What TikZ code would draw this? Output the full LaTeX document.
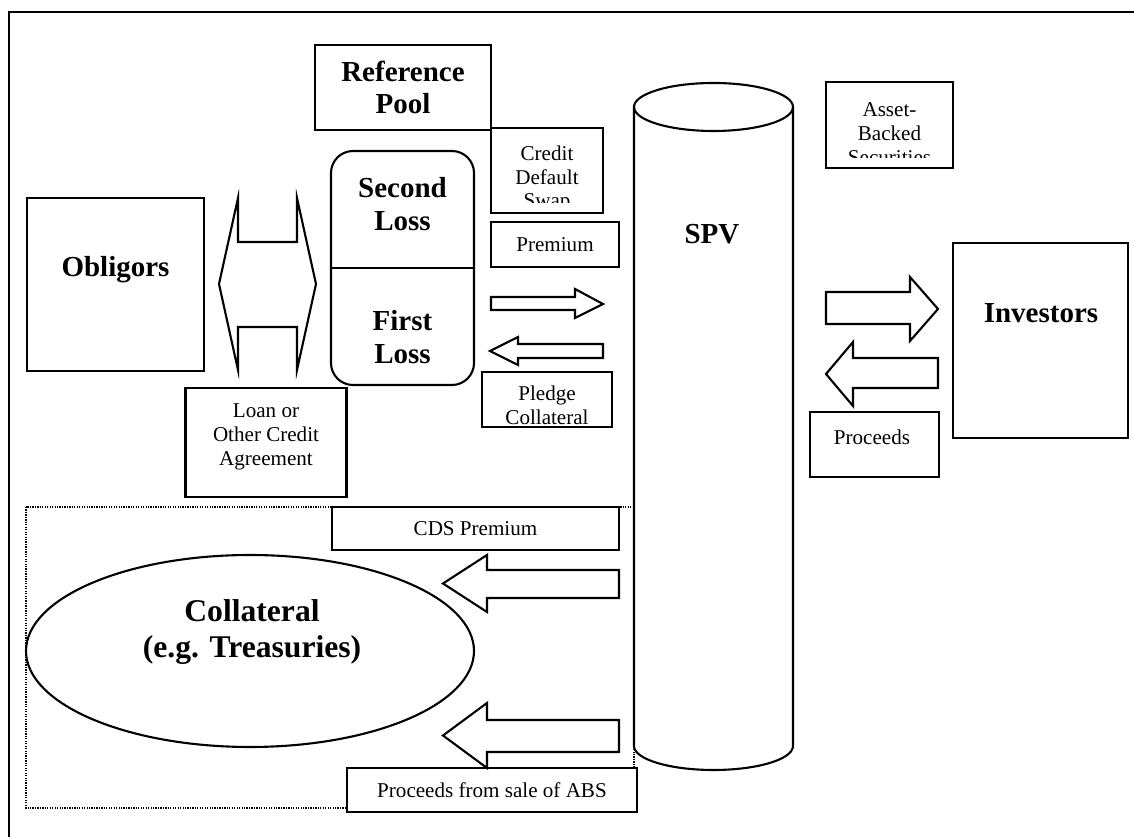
\documentclass[tikz,border=0pt]{standalone}
\usepackage{fontspec}
\setmainfont{Liberation Serif}
\usepackage{tikz}
\usetikzlibrary{shapes,arrows,positioning,calc}

\tikzset{
  box/.style={draw, line width=1.2pt, fill=white, inner sep=0pt, outer sep=0pt},
  boxsize/.style 2 args={minimum width=#1*0.02cm, minimum height=#2*0.02cm},
  smalltxt/.style={font=\fontsize{12}{13.6}\selectfont, align=center, inner sep=0pt},
  bigtxt/.style={font=\fontsize{16.5}{18.7}\selectfont\bfseries, align=center, inner sep=0pt},
  blockarrow/.style={draw, line width=1.2pt, fill=white, line join=miter},
}

\begin{document}
\begin{tikzpicture}[x=0.02cm, y=-0.02cm]
    \useasboundingbox (0,0) rectangle (1134,837);
    \draw[line width=1.4pt] (9,837) -- (9,12) -- (1134,12); % frame

    % collateral account
    \draw[line width=0.7pt, dash pattern=on 0.7pt off 0.7pt] (26,507) rectangle (634,808);
    \node[draw, ellipse, line width=1.2pt, fill=white, minimum width=448*0.02cm, minimum height=192*0.02cm] (collateral) at (250,651) {};
    \node[font=\fontsize{18}{20.6}\selectfont\bfseries, align=center, inner sep=0pt] (collateraltxt) at (252,632) {Collateral\\(e.g. Treasuries)};

    % SPV
    \draw[line width=1.2pt, fill=white] (634,107) -- (634,746) arc[start angle=180, end angle=0, x radius=79.5, y radius=24] -- (793,107);
    \draw[line width=1.2pt] (713.5,107) ellipse [x radius=79.5, y radius=24];
    \node[bigtxt] (spv) at (712,234) {SPV};

    % boxes
    \node[box, boxsize={176}{85}, bigtxt] (refpool) at (403,87.5) {Reference\\Pool};
    \node[box, boxsize={112}{85}] (cds) at (547,170.5) {};
    \begin{scope}
      \clip (cds.north west) rectangle ([yshift=0.2cm]cds.south east);
      \node[smalltxt] (cdstxt) at (547,179) {Credit\\Default\\Swap};
    \end{scope}
    \node[box, boxsize={127}{86}] (abs) at (889.5,125) {};
    \begin{scope}
      \clip (abs.north west) rectangle ([yshift=0.2cm]abs.south east);
      \node[smalltxt] (abstxt) at (889.5,134) {Asset-\\Backed\\Securities};
    \end{scope}

    \node[box, boxsize={143}{234}, rounded corners=0.44cm] (loss) at (402.5,268) {};
    \draw[line width=1.2pt] (loss.west) -- (loss.east);
    \node[bigtxt] (second) at (402.5,204) {Second\\Loss};
    \node[bigtxt] (first) at (402.5,337) {First\\Loss};

    \node[box, boxsize={177}{173}] (obligors) at (115.5,284.5) {};
    \node[bigtxt] (obligorstxt) at (115.5,270) {Obligors};
    \node[box, boxsize={175}{195}] (investors) at (1040.5,340.5) {};
    \node[bigtxt] (investorstxt) at (1041,313) {Investors};

    \node[box, boxsize={128}{45}, smalltxt] (premium) at (555,244.5) {Premium};
    \node[box, boxsize={130}{55}] (pledge) at (547,399.5) {};
    \node[smalltxt] (pledgetxt) at (547,405) {Pledge\\Collateral};
    \node[box, boxsize={161}{109}] (loan) at (266,442.5) {};
    \node[smalltxt] (loantxt) at (266,437) {Loan or\\Other Credit\\Agreement};
    \node[box, boxsize={129}{65}] (proceeds) at (874.5,444.5) {};
    \node[smalltxt] (proceedstxt) at (872,437) {Proceeds};
    \node[box, boxsize={287}{43}, smalltxt] (cdsprem) at (475.5,528.5) {CDS Premium};
    \node[box, boxsize={290}{44}, smalltxt] (absproc) at (492,790) {Proceeds from sale of ABS};

    % block arrows
    \draw[blockarrow] (219,284) -- (238,198) -- (238,242) -- (297,242) -- (297,198) -- (316,284)
        -- (297,370) -- (297,327) -- (238,327) -- (238,370) -- cycle; % loan
    \draw[blockarrow] (491,297) -- (575,297) -- (575,289) -- (603,304) -- (575,318) -- (575,310) -- (491,310) -- cycle;
    \draw[blockarrow] (603,344) -- (518,344) -- (518,337) -- (490,351) -- (518,365) -- (518,358) -- (603,358) -- cycle;
    \draw[blockarrow] (826,292) -- (910,292) -- (910,277) -- (938,309) -- (910,341) -- (910,324) -- (826,324) -- cycle;
    \draw[blockarrow] (938,358) -- (853,358) -- (853,342) -- (826,374) -- (853,406) -- (853,388) -- (938,388) -- cycle;
    \draw[blockarrow] (619,570) -- (487,570) -- (487,555) -- (443,583.5) -- (487,612) -- (487,598) -- (619,598) -- cycle;
    \draw[blockarrow] (619,720) -- (487,720) -- (487,703) -- (443,735.5) -- (487,768) -- (487,752) -- (619,752) -- cycle;
\end{tikzpicture}
\end{document}
